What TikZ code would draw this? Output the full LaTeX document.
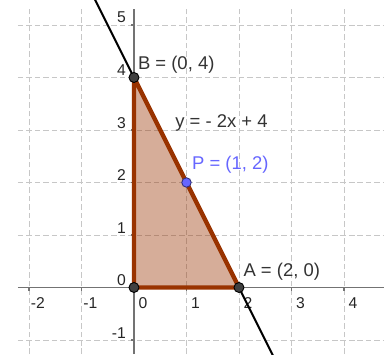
\documentclass[tikz,border=0pt]{standalone}
\usepackage{fontspec}
\setmainfont{Liberation Sans}
\usepackage{xcolor}
\usepackage{tikz}
\usetikzlibrary{arrows.meta,calc}
\definecolor{dreieck}{RGB}{153,51,0}
\definecolor{punktblau}{RGB}{102,102,255}

\begin{document}
\begin{tikzpicture}[>=Latex,
    gitter/.style={black!22,line width=0.5pt,dash pattern=on 3pt off 1.6pt},
    achse/.style={black!55,line width=0.75pt},
    punkt/.style={circle,fill=black!75,draw=black,line width=0.5pt,inner sep=0pt,minimum size=0.19cm},
    beschr/.style={font=\fontsize{10}{12}\selectfont,text=black!80,inner sep=0pt,anchor=west},
    skala/.style={font=\fontsize{8.5}{10}\selectfont,text=black!85,inner sep=0pt}]
    \useasboundingbox (-2.552,-1.267) rectangle (4.762,5.476);
    \clip (-2.552,-1.267) rectangle (4.762,5.476);
    % Gitter
    \foreach \x in {-2,...,4}
      \draw[gitter] (\x,-1.267) -- (\x,5.31);
    \foreach \y in {-1,...,5}
      \draw[gitter] (-2.21,\y) -- (4.762,\y);
    % Achsen mit Skala
    \draw[achse] (-2.21,0) -- (4.762,0);
    \draw[achse] (0,-1.267) -- (0,5.31);
    \foreach \x in {-2,...,4}{
      \draw[achse] (\x,0) -- (\x,-0.06);
      \node[skala] at (\x+0.17,-0.3) {\x};
    }
    \foreach \y in {-1,...,5}{
      \draw[achse] (0,\y) -- (-0.06,\y);
      \node[skala,anchor=east] at (-0.15,\y+0.14) {\y};
    }
    \coordinate (O) at (0,0);
    \coordinate (A) at (2,0);
    \coordinate (B) at (0,4);
    \coordinate (P) at (1,2);
    % Gerade durch A und B
    \draw[black,line width=1.1pt] ($(B)!-0.375!(A)$) -- ($(B)!1.33!(A)$);
    % Dreieck
    \fill[dreieck,fill opacity=0.4] (O) -- (A) -- (B) -- cycle;
    \draw[dreieck,line width=2.4pt,line join=round] (O) -- (A) -- (B) -- cycle;
    \node[punkt] (pO) at (O) {};
    \node[punkt] (pA) at (A) {};
    \node[punkt] (pB) at (B) {};
    \node[punkt,fill=punktblau,draw=punktblau!50!black,minimum size=0.18cm] (pP) at (P) {};
    \node[beschr] (labB) at (0.07,4.24) {B = (0, 4)};
    \node[beschr] (labG) at (0.78,3.13) {y = - 2x + 4};
    \node[beschr,text=punktblau] (labP) at (1.10,2.33) {P = (1, 2)};
    \node[beschr] (labA) at (2.08,0.30) {A = (2, 0)};
\end{tikzpicture}
\end{document}
